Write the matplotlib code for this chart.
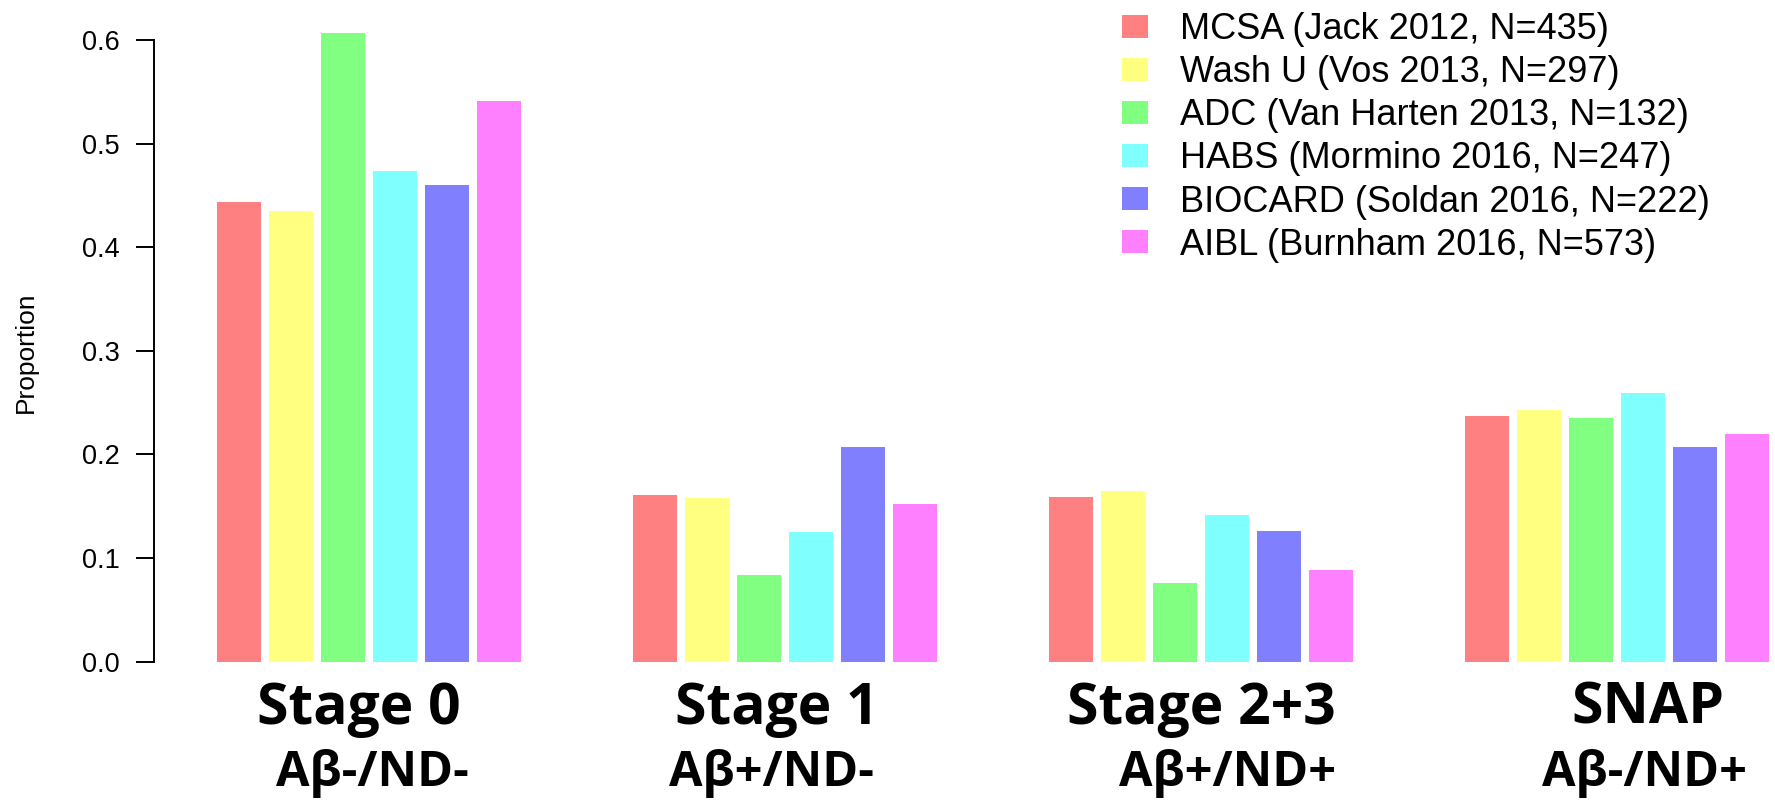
import matplotlib
matplotlib.use('Agg')
import matplotlib.pyplot as plt
from matplotlib import font_manager
from matplotlib.ticker import FormatStrFormatter
import numpy as np

stages = ['Stage 0', 'Stage 1', 'Stage 2+3', 'SNAP']
subtitles = ['A\u03b2-/ND-', 'A\u03b2+/ND-', 'A\u03b2+/ND+', 'A\u03b2-/ND+']
cohorts = ['MCSA (Jack 2012, N=435)', 'Wash U (Vos 2013, N=297)',
           'ADC (Van Harten 2013, N=132)', 'HABS (Mormino 2016, N=247)',
           'BIOCARD (Soldan 2016, N=222)', 'AIBL (Burnham 2016, N=573)']

# proportions per cohort, in stage order
mcsa = [0.444, 0.161, 0.159, 0.237]
washu = [0.435, 0.158, 0.165, 0.243]
adc = [0.607, 0.084, 0.076, 0.235]
habs = [0.474, 0.125, 0.142, 0.259]
biocard = [0.460, 0.207, 0.126, 0.207]
aibl = [0.541, 0.152, 0.088, 0.220]
values = [mcsa, washu, adc, habs, biocard, aibl]

colors = ['#FF8080', '#FFFF80', '#80FF80', '#80FFFF', '#8080FF', '#FF80FF']

W, H = 1775, 807
fig = plt.figure(figsize=(W / 100, H / 100), dpi=100)
plt.rcParams['font.family'] = ['Liberation Sans', 'DejaVu Sans']

# axes placed so that 0 sits at y=661.6 px and the y axis line at x=154.3 px
ax = fig.add_axes([154.3 / W, (H - 661.6) / H, 1 - 154.3 / W, 661.6 / H])
group_step = 8
bar_w = 44 / 52
group_x = np.arange(len(stages)) * group_step
for i, (vals, c, lab) in enumerate(zip(values, colors, cohorts)):
    ax.bar(group_x + i, vals, width=bar_w, color=c, label=lab, linewidth=0)

ax.set_xlim(-1.63, 29.54)
ax.set_ylim(0, 661.6 / 1035.7)
for s in ['top', 'right', 'bottom']:
    ax.spines[s].set_visible(False)
ax.spines['left'].set_bounds(0, 0.6)
ax.spines['left'].set_linewidth(1.4)
ax.set_xticks([])
ax.set_yticks(np.arange(0, 0.61, 0.1))
ax.yaxis.set_major_formatter(FormatStrFormatter('%.1f'))
ax.tick_params(axis='y', length=13, width=1.4, pad=12, labelsize=19.5)

fig.text(25.8 / W, 1 - 352.5 / H, 'Proportion', rotation=90,
         ha='center', va='center', fontsize=19)

# bold face for the stage labels: Open Sans Bold if there is one, else Lato
bold_file = font_manager.findfont(font_manager.FontProperties(family='Open Sans', weight='bold'))
if 'bold' in bold_file.lower() and 'opensans' in bold_file.lower().replace(' ', '').replace('-', ''):
    bold, s1, s2 = ['Open Sans', 'DejaVu Sans'], 41, 35
else:
    bold, s1, s2 = ['Lato', 'DejaVu Sans'], 44, 39

# group labels under the bars (hand placed in the original)
centers = group_x + 2.5
off1 = [-10, -8, 0, 31]
off2 = [3, -14, 27, 27]
for k in range(len(stages)):
    x1 = (centers[k] - ax.get_xlim()[0]) * 52 + 154.3 + off1[k]
    x2 = (centers[k] - ax.get_xlim()[0]) * 52 + 154.3 + off2[k]
    fig.text(x1 / W, 1 - 724 / H, stages[k], ha='center', va='baseline',
             fontsize=s1, fontweight='bold', family=bold)
    fig.text(x2 / W, 1 - 786 / H, subtitles[k], ha='center', va='baseline',
             fontsize=s2, fontweight='bold', family=bold)

fig.legend(loc='upper left', bbox_to_anchor=(1122 / W, 1 - 12 / H),
           frameon=False, fontsize=26, borderpad=0, borderaxespad=0,
           handlelength=0.72, handleheight=0.6, handletextpad=0.9,
           labelspacing=0.225)

fig.savefig('out.png', dpi=100)
